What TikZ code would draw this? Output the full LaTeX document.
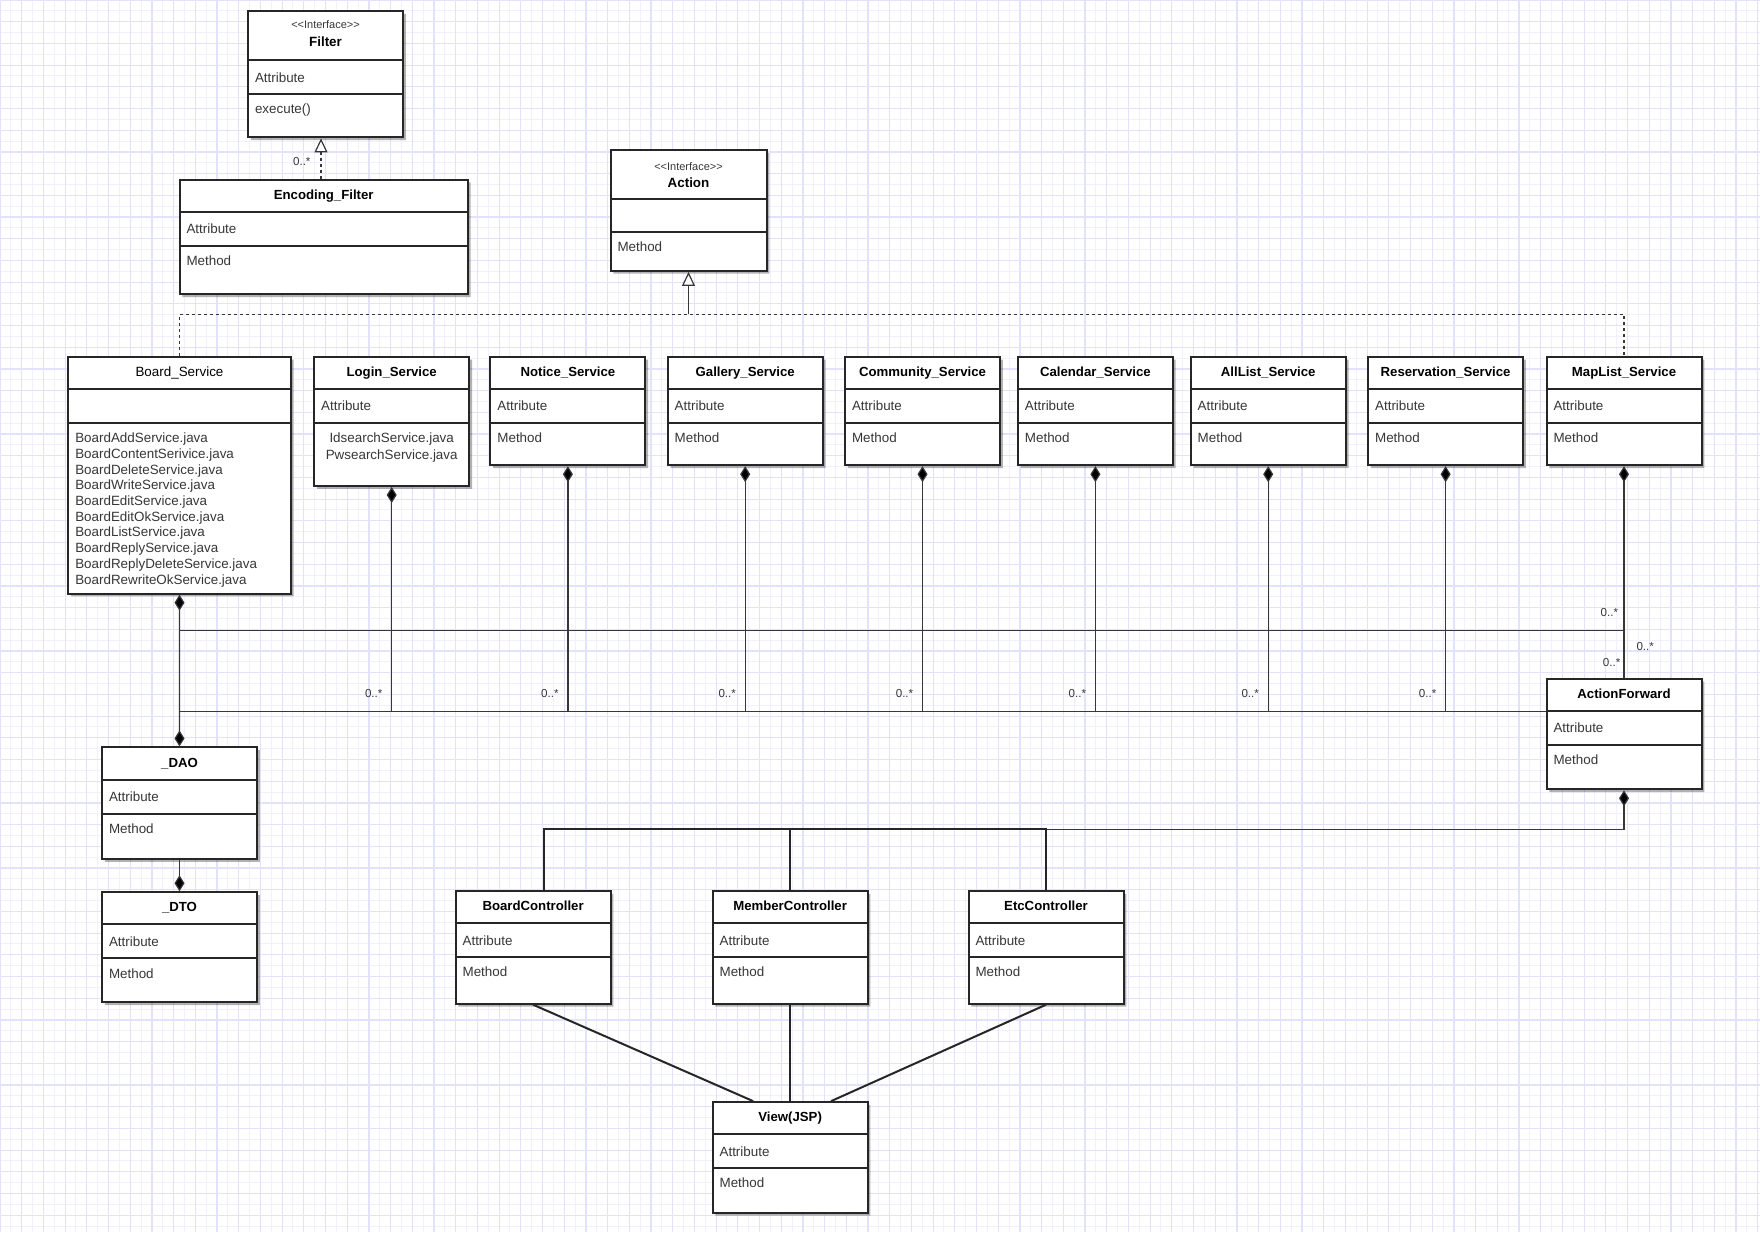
\documentclass[tikz,border=0pt]{standalone}
\usepackage{fontspec}
\setmainfont{Liberation Sans}
\usetikzlibrary{shapes.multipart, arrows.meta, shadows, calc}
\setlength{\parindent}{0pt}

\definecolor{gridmajor}{RGB}{226,226,250}
\definecolor{gridminor}{RGB}{241,241,253}
\definecolor{linegray}{RGB}{55,55,55}
\definecolor{textgray}{RGB}{55,55,55}

\newcommand{\clsname}[1]{\centering\rule[-5.8pt]{0pt}{15.1pt}{\color{black}\fontsize{6.6}{7}\selectfont\textbf{#1}}\par}
\newcommand{\clsattr}[1]{\rule[-5.6pt]{0pt}{16pt}#1}
\newcommand{\clsmeth}[2][10.8pt]{\rule[-#1]{0pt}{\dimexpr9.3pt+#1\relax}#2}
\newcommand{\iface}[3]{\centering\fontsize{6.7}{8.7}\selectfont{\fontsize{5.5}{6}\selectfont\rule{0pt}{#2}<\kern0pt<Interface>\kern0pt>}\\{\color{black}\textbf{#1}}\rule[-#3]{0pt}{0pt}\par}

\tikzstyle{umlclass} = [rectangle split, rectangle split parts=3, draw=black!85, line width=1pt, fill=white, anchor=north west, inner xsep=3.5pt, inner ysep=0pt, text width=70.5pt, align=left, text=textgray, font=\fontsize{6.7}{7.86}\selectfont, drop shadow={shadow xshift=1.4pt, shadow yshift=-1.4pt, fill=black, opacity=0.3}]
\tikzstyle{assoc} = [draw=linegray, line width=0.6pt]
\tikzstyle{compose} = [assoc, {Diamond[width=5pt,length=8pt]}-]
\tikzstyle{realize} = [assoc, dash pattern=on 1.5pt off 1.5pt]
\tikzstyle{inherit} = [-{Triangle[width=6.5pt,length=7pt,fill=white]}]
\tikzstyle{ctrl} = [draw=black!85, line width=1pt]
\tikzstyle{mult} = [font=\fontsize{5.8}{6}\selectfont, text=textgray, inner sep=0pt]

\begin{document}
\begin{tikzpicture}[x=0.5pt, y=-0.5pt]

% Sheet and grid
\useasboundingbox (0,0) rectangle (1760,1232);
\fill [white] (0,0) rectangle (1760,1232);
\draw [gridminor, line width=0.5pt, step=5.425pt] (0,0) grid (1760,1232);
\draw [gridmajor, line width=0.6pt, step=10.85pt] (0,0) grid (1760,1232);

% Interfaces
\node (filter) [umlclass] at (247,10) {\iface{Filter}{8.4pt}{6.5pt}
  \nodepart{two}\clsattr{Attribute}
  \nodepart{three}\clsmeth[11.3pt]{execute()}};
\node (encf) [umlclass, text width=137.2pt] at (178.5,178.5) {\clsname{Encoding\_Filter}
  \nodepart{two}\clsattr{Attribute}
  \nodepart{three}\clsmeth[14pt]{Method}};
\node (action) [umlclass, text width=71pt] at (609.5,149.3) {\iface{Action}{9.5pt}{5.3pt}
  \nodepart{two}\rule[-5.5pt]{0pt}{15.5pt}
  \nodepart{three}\clsmeth[9pt]{Method}};

% Services
\node (board) [umlclass, text width=104.2pt] at (67.3,355.8) {\centering\rule[-5.8pt]{0pt}{15.1pt}{\color{black}Board\_Service}\par
  \nodepart{two}\rule[-5.6pt]{0pt}{16pt}
  \nodepart{three}\rule{0pt}{9.3pt}BoardAddService.java\\BoardContentSerivice.java\\BoardDeleteService.java\\BoardWriteService.java\\BoardEditService.java\\BoardEditOkService.java\\BoardListService.java\\BoardReplyService.java\\BoardReplyDeleteService.java\\BoardRewriteOkService.java\rule[-4.3pt]{0pt}{0pt}};
\node (login) [umlclass] at (313.2,355.8) {\clsname{Login\_Service}
  \nodepart{two}\clsattr{Attribute}
  \nodepart{three}\centering\fontsize{6.7}{8.4}\selectfont\rule{0pt}{9.3pt}IdsearchService.java\\PwsearchService.java\rule[-12.8pt]{0pt}{0pt}\par};
\node (notice) [umlclass] at (489.4,355.8) {\clsname{Notice\_Service}
  \nodepart{two}\clsattr{Attribute}
  \nodepart{three}\clsmeth{Method}};
\node (gallery) [umlclass] at (666.7,355.8) {\clsname{Gallery\_Service}
  \nodepart{two}\clsattr{Attribute}
  \nodepart{three}\clsmeth{Method}};
\node (community) [umlclass] at (844,355.8) {\clsname{Community\_Service}
  \nodepart{two}\clsattr{Attribute}
  \nodepart{three}\clsmeth{Method}};
\node (calendar) [umlclass] at (1016.9,355.8) {\clsname{Calendar\_Service}
  \nodepart{two}\clsattr{Attribute}
  \nodepart{three}\clsmeth{Method}};
\node (alllist) [umlclass] at (1189.7,355.8) {\clsname{AllList\_Service}
  \nodepart{two}\clsattr{Attribute}
  \nodepart{three}\clsmeth{Method}};
\node (reserv) [umlclass] at (1367.1,355.8) {\clsname{Reservation\_Service}
  \nodepart{two}\clsattr{Attribute}
  \nodepart{three}\clsmeth{Method}};
\node (maplist) [umlclass] at (1545.5,355.8) {\clsname{MapList\_Service}
  \nodepart{two}\clsattr{Attribute}
  \nodepart{three}\clsmeth{Method}};

% Forward, DAO and DTO
\node (fwd) [umlclass] at (1545.5,677.9) {\clsname{ActionForward}
  \nodepart{two}\clsattr{Attribute}
  \nodepart{three}\clsmeth[11.8pt]{Method}};
\node (dao) [umlclass] at (101,746.4) {\clsname{\_DAO}
  \nodepart{two}\clsattr{Attribute}
  \nodepart{three}\clsmeth[12.4pt]{Method}};
\node (dto) [umlclass] at (101,891.2) {\clsname{\_DTO}
  \nodepart{two}\clsattr{Attribute}
  \nodepart{three}\clsmeth[11.7pt]{Method}};

% Controllers and view
\node (bctl) [umlclass] at (454.6,890.1) {\clsname{BoardController}
  \nodepart{two}\clsattr{Attribute}
  \nodepart{three}\clsmeth[12.9pt]{Method}};
\node (mctl) [umlclass] at (711.6,890.1) {\clsname{MemberController}
  \nodepart{two}\clsattr{Attribute}
  \nodepart{three}\clsmeth[12.9pt]{Method}};
\node (ectl) [umlclass] at (967.5,890.1) {\clsname{EtcController}
  \nodepart{two}\clsattr{Attribute}
  \nodepart{three}\clsmeth[12.9pt]{Method}};
\node (view) [umlclass] at (711.6,1101.1) {\clsname{View(JSP)}
  \nodepart{two}\clsattr{Attribute}
  \nodepart{three}\clsmeth[11.9pt]{Method}};

% Realizations
\coordinate (fa) at ($(filter.south)+(-4.5,0)$);
\draw [realize, inherit] (fa |- encf.north) -- (fa) node (m0) [mult, pos=0.43, xshift=-9.6pt] {0..*};
\coordinate (rl) at ($(board.north)+(0,-41.5)$);
\draw [realize] (board.north) -- (rl) -| (maplist.north);
\draw [assoc, inherit] (action.south |- rl) -- (action.south);

% Compositions to ActionForward
\coordinate (j1) at ($(board.south)+(0,36)$);
\draw [assoc] (j1) -- (j1 -| maplist.south);
\draw [assoc] (board.south |- fwd.text split west) -- (fwd.text split west);
\draw [compose] (login.south) -- (login.south |- fwd.text split west) node (m1) [mult, xshift=-9pt, yshift=9pt] {0..*};
\draw [compose] (notice.south) -- (notice.south |- fwd.text split west) node (m2) [mult, xshift=-9pt, yshift=9pt] {0..*};
\draw [compose] (gallery.south) -- (gallery.south |- fwd.text split west) node (m3) [mult, xshift=-9pt, yshift=9pt] {0..*};
\draw [compose] (community.south) -- (community.south |- fwd.text split west) node (m4) [mult, xshift=-9pt, yshift=9pt] {0..*};
\draw [compose] (calendar.south) -- (calendar.south |- fwd.text split west) node (m5) [mult, xshift=-9pt, yshift=9pt] {0..*};
\draw [compose] (alllist.south) -- (alllist.south |- fwd.text split west) node (m6) [mult, xshift=-9pt, yshift=9pt] {0..*};
\draw [compose] (reserv.south) -- (reserv.south |- fwd.text split west) node (m7) [mult, xshift=-9pt, yshift=9pt] {0..*};
\draw [compose] (maplist.south) -- (fwd.north)
  node (m8) [mult, pos=0.693, xshift=-7.3pt] {0..*}
  node (m9) [mult, pos=0.852, xshift=10.6pt] {0..*}
  node (m10) [mult, pos=0.926, xshift=-6.2pt] {0..*};

% DAO chain
\draw [assoc, {Diamond[width=5pt,length=8pt]}-{Diamond[width=5pt,length=8pt]}] (board.south) -- (dao.north);
\draw [assoc, -{Diamond[width=5pt,length=8pt]}] (dao.south) -- (dto.north);

% Controllers
\coordinate (cb) at ($(fwd.south)+(0,39)$);
\draw [compose] (fwd.south) -- (cb) -- (cb -| mctl.north);
\draw [ctrl] ($(bctl.north)+(11,0)$) |- (cb -| ectl.north) -- (ectl.north);
\draw [ctrl] (mctl.north) -- (mctl.north |- cb);
\draw [ctrl] (bctl.south) -- ($(view.north)+(-37,0)$);
\draw [ctrl] (mctl.south) -- (view.north);
\draw [ctrl] (ectl.south) -- ($(view.north)+(41,0)$);

\end{tikzpicture}
\end{document}
